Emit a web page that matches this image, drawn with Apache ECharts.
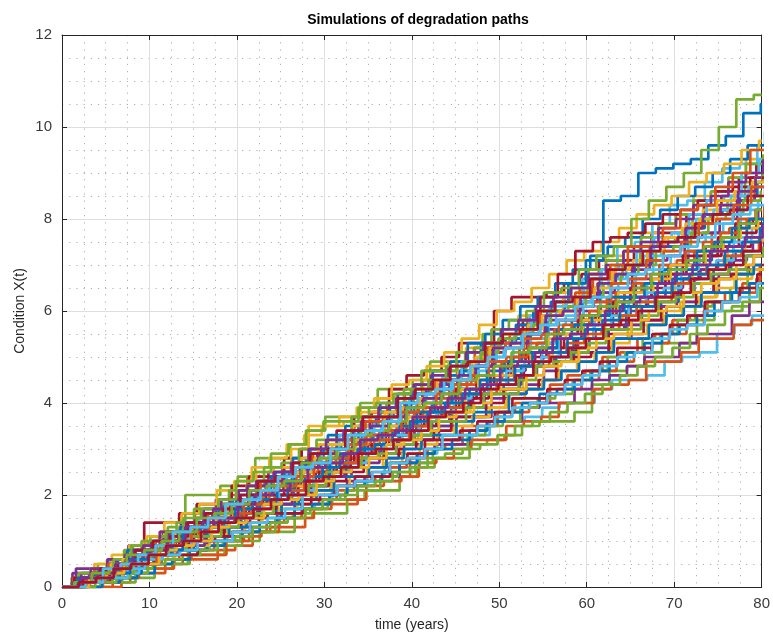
<!DOCTYPE html>
<html>
<head>
<meta charset="utf-8">
<script src="https://cdn.jsdelivr.net/npm/echarts@6/dist/echarts.min.js"></script>
<style>
html,body{margin:0;padding:0;background:#fff;}
#chart{width:773px;height:637px;}
</style>
</head>
<body>
<div id="chart"></div>
<script>
// time grid (years)
var times = [0,2,4,6,8,10,12,14,16,18,20,22,24,26,28,30,32,34,36,38,40,42,44,46,48,50,52,54,56,58,60,62,64,66,68,70,72,74,76,78,80];
var xTicks = [0,10,20,30,40,50,60,70,80];
var yTicks = [0,2,4,6,8,10,12];

// simulated degradation paths (condition at each time)
var a1 = [0,0.1,0.4,0.4,0.7,0.9,0.9,1.3,1.4,1.5,1.9, 2.0,2.0,2.4,2.7,2.8,2.9,3.3,3.3,3.5,3.9, 4.0,4.4,4.5,4.5,4.9,5.2,5.3,5.4,5.8,5.9, 6.0,6.4,6.6,6.6,7.0,7.1,7.4,7.5,7.9,8.1];
var a2 = [0,0,0.3,0.6,0.7,0.7,1.2,1.3,1.6,1.6,2.0, 2.4,2.4,2.6,3.0,3.1,3.1,3.6,3.8,3.9,4.2, 4.5,4.5,4.9,5.2,5.2,5.5,5.9,5.9,6.0,6.5, 6.6,6.9,7.0,7.4,7.4,7.8,8.1,8.2,8.4,8.7];
var a3 = [0,0,0.1,0.4,0.4,0.6,0.9,0.9,1.0,1.4,1.4, 1.6,1.9,1.9,2.1,2.5,2.6,2.6,2.9,3.2,3.3, 3.4,3.8,3.9,3.9,4.3,4.5,4.5,4.9,5.1,5.1, 5.4,5.7,5.7,6.0,6.2,6.3,6.7,6.8,6.9,7.3];
var a4 = [0,0.4,0.4,0.5,0.9,0.9,1.2,1.4,1.5,1.9,1.9, 2.1,2.5,2.5,2.7,3.1,3.1,3.2,3.6,3.7,3.9, 4.3,4.3,4.5,4.9,4.9,5.0,5.5,5.6,5.6,6.0, 6.2,6.3,6.7,6.7,7.0,7.3,7.4,7.6,8.0,8.2];
var a5 = [0,0.2,0.5,0.5,0.9,1.1,1.3,2.0,2.0,2.2,2.4, 2.8,2.8,3.1,3.4,3.7,3.7,4.0,4.3,4.3,4.5, 4.9,4.9,5.1,5.5,5.5,5.7,6.1,6.2,6.3,6.7, 6.7,7.0,7.4,7.5,7.6,8.0,8.1,8.4,8.8,9.0];
var a6 = [0,0.1,0.1,0.3,0.5,0.5,0.8,0.8,1.0,1.2,1.3, 1.3,1.7,1.7,1.8,2.2,2.2,2.4,2.6,2.6,2.9, 3.1,3.1,3.3,3.6,3.6,3.7,3.9,4.0,4.0,4.3, 4.5,4.5,4.6,4.9,5.0,5.1,5.5,5.7,5.9,6.3];
var a7 = [0,0.2,0.2,0.5,0.8,1.4,1.4,1.6,1.8,1.8,2.2, 2.4,2.4,2.8,3.0,3.0,3.4,3.7,3.8,4.3,4.6, 4.7,5.0,5.3,5.3,6.0,6.3,6.3,6.4,6.6,6.8, 7.1,7.1,7.4,7.7,7.7,8.1,8.3,8.5,8.9,9.2];
var b1 = [0,0,0.3,0.4,0.4,0.8,0.9,0.9,1.3,1.4,1.6, 1.6,2.0,2.2,2.2,2.5,2.9,2.9,3.1,3.4,3.5, 3.5,3.9,4.2,4.2,4.4,4.8,4.9,5.0,5.4,5.4, 5.6,6.0,6.0,6.2,6.6,6.6,6.9,7.2,7.2,7.5];
var b2 = [0,0,0,0.1,0.3,0.3,0.5,0.6,0.6,0.8,0.9, 1.2,1.3,1.3,1.7,1.8,1.8,2.2,2.4,2.4,2.8, 3.0,3.1,3.5,3.5,3.8,4.0,4.0,4.4,4.6,4.7, 5.0,5.1,5.4,5.5,5.8,5.9,6.2,6.4,6.6,7.0];
var b3 = [0,0.2,0.3,0.6,0.7,0.9,1.2,1.3,1.5,1.9,2.1, 2.5,2.6,3.0,3.5,3.5,3.6,3.8,4.1,4.2,4.4, 4.7,4.9,5.2,5.3,5.5,5.9,6.0,6.4,6.6,6.8, 7.2,7.3,7.7,7.9,8.1,8.5,8.6,8.9,9.3,9.4];
var b4 = [0,0.1,0.3,0.3,0.4,0.7,0.7,0.9,1.1,1.1,1.4, 1.6,1.6,1.9,2.0,2.0,2.4,2.6,2.6,2.9,3.1, 3.2,3.5,3.7,3.7,4.1,4.2,4.4,4.7,4.7,5.1, 5.2,5.4,5.8,5.8,6.1,6.2,6.4,6.8,6.9,7.2];
var b5 = [0,0,0.1,0.2,0.2,0.4,0.5,0.7,0.7,0.9,1.0, 1.2,1.2,1.5,1.6,1.6,1.9,2.1,2.1,2.4,2.6, 2.8,2.8,3.1,3.2,3.3,3.5,3.6,3.6,3.8,4.4, 4.7,4.8,5.1,5.3,5.3,5.8,6.0,6.1,6.5,6.8];
var b6 = [0,0.1,0.3,0.6,0.6,0.8,1.0,1.3,1.3,1.6,1.8, 2.1,2.1,2.4,2.7,2.7,3.0,3.4,3.4,3.8,4.0, 4.2,4.6,4.7,5.0,5.3,5.4,5.9,6.0,6.3,6.7, 6.9,7.4,7.5,7.9,8.3,8.4,8.8,9.1,9.2,9.6];
var b7 = [0,0.2,0.2,0.4,0.7,0.8,0.8,1.2,1.2,1.5,1.6, 1.9,2.0,2.0,2.4,2.6,2.8,2.8,3.2,3.3,3.5, 3.9,3.9,4.1,4.5,4.5,4.8,5.1,5.1,5.4,5.6, 5.7,6.1,6.3,6.3,6.7,6.9,7.0,7.4,7.5,7.8];
var c1 = [0,0.1,0.4,0.5,0.5,0.8,1.1,1.1,1.4,1.7,1.9, 2.0,2.4,2.5,2.8,3.0,3.1,3.5,3.7,3.8,4.2, 4.4,4.6,4.9,5.3,5.3,5.7,6.0,6.2,6.6,7.1, 8.4,8.5,9.0,9.1,9.2,9.3,9.6,9.8,10.3,10.5];
var c2 = [0,0.1,0.1,0.4,0.6,0.7,0.9,1.2,1.2,1.5,1.7, 1.8,2.2,2.2,2.5,2.8,2.8,3.1,3.4,3.6,3.8, 3.9,4.3,4.5,4.5,4.9,5.2,5.3,5.6,5.7,6.0, 6.3,6.4,6.6,7.0,7.1,7.3,7.7,7.8,8.0,8.3];
var c3 = [0,0.2,0.4,0.4,0.7,1.0,1.0,1.3,1.5,1.6,1.9, 2.2,2.3,2.5,2.8,3.1,3.1,3.5,3.7,3.8,4.1, 4.4,4.5,4.7,5.0,5.3,5.4,5.7,5.9,6.3,6.4, 6.6,7.0,7.1,7.5,7.6,7.9,8.2,8.3,8.6,8.9];
var c4 = [0,0.1,0.2,0.2,0.5,0.6,0.6,0.8,1.0,1.0,1.3, 1.4,1.6,1.9,1.9,2.0,2.3,2.4,2.4,2.7,2.9, 3.1,3.1,3.4,3.6,3.6,3.9,4.0,4.0,4.3,4.5, 4.6,4.8,5.0,5.0,5.3,5.5,5.5,5.9,6.2,6.4];
var c5 = [0,0.2,0.2,0.5,0.8,1.0,1.1,1.4,1.7,1.7,2.1, 2.2,2.6,2.7,3.0,3.2,3.2,3.7,3.9,4.0,4.3, 4.7,4.7,5.1,5.2,5.6,5.8,6.0,6.4,6.5,6.9, 7.2,7.4,8.0,8.4,8.7,9.0,9.5,10.0,10.6,10.7];
var c6 = [0,0.1,0.2,0.5,0.5,0.7,1.0,1.1,1.1,1.5,1.6, 1.9,2.0,2.3,2.5,2.5,2.9,3.2,3.2,3.4,3.7, 3.9,4.3,4.3,4.6,4.8,4.9,5.3,5.5,5.6,5.9, 6.2,6.3,6.6,6.9,7.0,7.2,7.5,7.6,7.8,8.1];
var c7 = [0,0.1,0.3,0.3,0.5,0.8,0.8,1.0,1.1,1.3,1.4, 1.7,1.8,1.8,2.2,2.3,2.5,2.8,2.8,3.0,3.2, 3.4,3.7,3.7,4.0,4.3,4.3,4.5,4.9,5.0,5.1, 5.5,5.5,5.8,6.1,6.1,6.4,6.7,6.8,7.0,7.3];
var d1 = [0,0.2,0.2,0.5,0.8,0.8,1.0,1.3,1.4,1.5,1.9, 2.0,2.1,2.5,2.6,2.9,3.2,3.2,3.5,3.9,4.0, 4.1,4.5,4.7,4.8,5.3,5.4,5.5,6.0,6.1,6.2, 6.7,6.8,7.0,7.4,7.4,7.8,8.1,8.2,8.5,8.8];
var d2 = [0,0,0,0.2,0.4,0.4,0.6,0.7,0.7,1.0,1.1, 1.2,1.5,1.5,1.7,1.9,1.9,2.2,2.3,2.4,2.7, 2.8,3.0,3.2,3.2,3.5,3.6,3.7,4.0,4.0,4.3, 4.4,4.5,4.9,4.9,5.1,5.4,5.4,5.7,5.8,6.1];
var d3 = [0,0.1,0.3,0.3,0.6,0.6,0.8,1.1,1.2,1.4,1.6, 1.6,1.9,2.2,2.2,2.5,2.7,2.8,3.2,3.2,3.5, 3.7,3.8,4.2,4.2,4.5,4.6,4.9,5.1,5.2,5.5, 5.8,5.9,6.2,6.3,6.6,6.8,6.9,7.3,7.5,7.7];
var d4 = [0,0.3,0.3,0.6,0.7,0.9,1.2,1.2,1.5,1.6,1.9, 2.2,2.2,2.5,2.7,2.9,3.0,3.3,3.6,3.7,4.0, 4.2,4.4,4.5,4.8,5.2,5.2,5.5,5.8,5.8,6.2, 6.4,6.5,6.9,7.1,7.2,7.6,7.7,8.0,8.4,8.5];
var d5 = [0,0,0.1,0.1,0.4,0.5,0.5,0.8,0.9,1.0,1.2, 1.2,1.5,1.6,1.7,1.9,2.1,2.1,2.4,2.5,2.7, 3.0,3.0,3.3,3.5,3.6,3.9,4.1,4.2,4.5,4.7, 5.0,5.1,5.4,5.5,5.8,6.1,6.2,6.5,6.9,7.1];
var d6 = [0,0.1,0.3,0.3,0.6,0.8,1.0,1.2,1.5,1.5,1.8, 2.0,2.3,2.5,2.6,2.9,3.3,3.3,3.6,3.8,4.1, 4.2,4.5,4.9,4.9,5.3,5.5,5.8,6.1,6.2,6.5, 6.9,7.0,7.3,7.6,7.7,8.1,8.4,8.5,9.0,9.3];
var d7 = [0,0.1,0.4,0.5,0.5,0.8,1.0,1.3,1.3,1.5,1.7, 2.0,2.0,2.3,2.5,2.6,3.0,3.1,3.4,3.6,3.8, 3.9,4.3,4.3,4.6,4.9,5.1,5.2,5.5,5.8,5.9, 6.2,6.5,6.5,6.8,7.2,7.2,7.6,7.9,8.0,8.4];
var e1 = [0,0,0.1,0.3,0.3,0.5,0.8,0.8,1.0,1.1,1.3, 1.5,1.5,1.8,1.9,2.1,2.4,2.4,2.6,2.8,3.0, 3.3,3.3,3.6,3.8,3.8,4.2,4.3,4.5,4.7,4.9, 5.1,5.4,5.4,5.7,5.9,6.1,6.4,6.4,6.8,7.0];
var e2 = [0,0.2,0.4,0.4,0.7,1.0,1.1,1.3,1.6,1.7,1.9, 2.3,2.3,2.6,2.9,2.9,3.2,3.6,3.7,3.8,4.1, 4.5,4.5,4.9,5.2,5.3,5.6,6.0,6.0,6.4,6.7, 7.0,7.4,7.4,7.8,8.2,8.3,8.7,9.0,9.5,9.8];
var e3 = [0,0.1,0.2,0.5,0.6,0.8,1.0,1.0,1.4,1.5,1.7, 1.9,2.1,2.2,2.6,2.6,2.9,3.2,3.2,3.5,3.7, 4.0,4.0,4.3,4.6,4.6,4.9,5.2,5.4,5.5,5.8, 6.0,6.4,6.4,6.7,7.0,7.0,7.3,7.6,7.8,8.0];
var e4 = [0,0.2,0.2,0.4,0.6,0.7,0.9,0.9,1.3,1.4,1.5, 1.8,1.8,2.1,2.2,2.4,2.7,2.7,3.0,3.2,3.4, 3.6,3.8,3.9,4.3,4.3,4.6,4.8,5.0,5.2,5.4, 5.6,5.7,6.1,6.1,6.4,6.7,6.8,7.1,7.2,7.5];
var e5 = [0,0.3,0.4,0.6,0.9,1.0,1.2,1.5,1.7,1.9,2.3, 2.5,2.9,3.1,3.4,3.6,3.6,3.9,4.0,4.2,4.3, 4.5,4.8,4.9,5.1,5.4,5.5,5.7,6.0,6.1,6.3, 6.6,6.8,7.0,7.3,7.4,7.7,8.0,8.1,8.4,8.6];
var e6 = [0,0.1,0.3,0.3,0.6,0.8,0.9,1.1,1.3,1.5,1.7, 1.8,2.1,2.1,2.4,2.7,2.7,3.0,3.3,3.3,3.6, 3.8,4.1,4.2,4.4,4.7,4.8,5.0,5.4,5.4,5.7, 5.9,6.2,6.4,6.5,6.9,7.0,7.1,7.5,7.6,7.9];
var e7 = [0,0.1,0.1,0.3,0.4,0.6,0.7,0.7,1.0,1.1,1.2, 1.5,1.6,1.6,1.9,2.0,2.2,2.4,2.4,2.7,2.9, 3.2,3.2,3.4,3.6,3.8,4.1,4.1,4.3,4.5,4.7, 4.9,5.2,5.2,5.5,5.7,5.9,6.2,6.2,6.5,6.8];
var f1 = [0,0.1,0.2,0.5,0.6,0.7,1.1,1.1,1.4,1.5,1.7, 1.9,2.1,2.4,2.4,2.8,2.9,3.2,3.4,3.5,3.8, 4.0,4.2,4.3,4.7,4.9,5.1,5.2,5.6,5.7,5.9, 6.3,6.3,6.6,6.9,6.9,7.3,7.5,7.8,8.0,8.3];
var f2 = [0,0.1,0.4,0.4,0.6,0.8,0.9,1.1,1.4,1.4,1.6, 1.8,2.1,2.1,2.3,2.6,2.7,2.9,3.2,3.2,3.5, 3.7,3.9,4.2,4.2,4.5,4.8,4.8,5.1,5.3,5.5, 5.6,5.9,6.2,6.2,6.6,6.8,7.0,7.2,7.3,7.6];
var f3 = [0,0.1,0.3,0.6,0.7,0.9,1.2,1.3,1.5,1.8,1.9, 2.1,2.4,2.5,2.8,3.1,3.1,3.4,3.8,3.9,4.1, 4.5,4.5,4.9,5.2,5.2,5.6,5.9,6.0,6.3,6.5, 6.9,7.0,7.3,7.6,7.8,8.0,8.4,8.6,8.8,9.1];
var f4 = [0,0.1,0.4,0.4,0.6,0.9,1.0,1.2,1.4,1.7,1.8, 2.0,2.3,2.4,2.6,2.9,3.0,3.4,3.5,3.6,3.9, 4.1,4.5,4.6,4.8,5.2,5.3,5.5,5.9,6.0,6.3, 6.6,6.8,7.0,7.4,7.5,7.8,8.1,8.3,8.6,8.9];
var f5 = [0,0.1,0.1,0.3,0.6,0.7,0.8,1.1,1.1,1.3,1.5, 1.6,1.9,2.0,2.2,2.5,2.6,2.8,2.9,3.1,3.3, 3.6,3.6,3.9,4.2,4.2,4.5,4.8,4.9,5.1,5.3, 5.6,5.6,5.9,6.2,6.3,6.6,6.8,6.9,7.2,7.4];
var f6 = [0,0.1,0.2,0.2,0.4,0.6,0.7,0.8,1.0,1.0,1.2, 1.4,1.5,1.7,2.0,2.0,2.2,2.3,2.5,2.7,2.8, 3.0,3.3,3.3,3.5,3.7,3.9,4.0,4.2,4.4,4.6, 4.8,5.0,5.1,5.4,5.6,5.7,6.0,6.2,6.3,6.6];
var f7 = [0,0.2,0.4,0.5,0.8,1.0,1.1,1.4,1.6,1.7,2.0, 2.3,2.4,2.7,2.9,3.0,3.4,3.7,3.7,4.1,4.3, 4.5,4.8,4.9,5.3,5.5,5.6,6.0,6.2,6.3,6.7, 6.9,7.0,7.3,7.5,7.6,7.9,8.1,8.2,8.5,8.7];
var g1 = [0,0.2,0.3,0.3,0.6,0.8,0.8,1.2,1.3,1.4,1.7, 1.9,1.9,2.3,2.4,2.6,2.9,3.0,3.1,3.4,3.6, 3.8,4.0,4.2,4.5,4.5,4.8,5.1,5.1,5.4,5.6, 5.8,6.1,6.1,6.4,6.7,6.8,7.0,7.3,7.5,7.8];
var g2 = [0,0.1,0.3,0.5,0.5,0.9,1.0,1.2,1.5,1.5,1.8, 2.1,2.2,2.4,2.7,2.8,3.1,3.3,3.4,3.8,3.9, 4.2,4.4,4.6,4.9,5.0,5.4,5.5,5.8,6.1,6.2, 6.6,6.7,7.1,7.3,7.5,7.9,8.0,8.3,8.7,8.9];
var g3 = [0,0,0.2,0.3,0.5,0.5,0.8,0.9,1.0,1.3,1.4, 1.5,1.8,1.9,2.0,2.3,2.5,2.6,2.8,3.1,3.2, 3.4,3.7,3.8,4.0,4.3,4.3,4.6,4.8,4.9,5.2, 5.4,5.5,5.8,6.0,6.1,6.4,6.6,6.7,7.0,7.2];
var g4 = [0,0.2,0.3,0.5,0.7,0.8,1.0,1.3,1.4,1.5,1.8, 2.0,2.1,2.3,2.6,2.7,2.9,3.2,3.3,3.4,3.7, 3.9,4.1,4.3,4.4,4.8,4.9,5.1,5.4,5.5,5.7, 6.0,6.2,6.3,6.6,6.8,7.0,7.3,7.4,7.6,7.9];
var g5 = [0,0.1,0.3,0.4,0.7,0.8,1.0,1.2,1.5,1.6,1.8, 2.1,2.2,2.3,2.7,2.8,3.0,3.3,3.4,3.6,3.9, 4.0,4.2,4.5,4.6,4.8,5.1,5.2,5.5,5.6,5.9, 6.1,6.2,6.5,6.8,6.9,7.1,7.4,7.6,7.9,8.2];
var g6 = [0,0.1,0.4,0.5,0.7,0.9,1.2,1.3,1.5,1.8,1.9, 2.1,2.4,2.6,2.7,3.0,3.3,3.4,3.6,4.0,4.2, 4.3,4.5,4.8,5.0,5.2,5.5,5.7,5.8,6.1,6.3, 6.5,6.8,6.9,7.2,7.4,7.6,7.9,8.1,8.3,8.6];
var g7 = [0,0.1,0.2,0.4,0.5,0.7,0.9,1.0,1.2,1.4,1.5, 1.7,1.9,2.0,2.3,2.4,2.6,2.9,3.0,3.2,3.4, 3.7,3.8,4.0,4.3,4.4,4.6,4.9,5.0,5.2,5.4, 5.7,5.8,6.0,6.3,6.4,6.7,6.9,7.0,7.3,7.5];
var h1 = [0,0.2,0.4,0.6,0.7,1.0,1.2,1.3,1.6,1.8,2.0, 2.3,2.5,2.8,3.0,3.3,3.5,3.7,4.0,4.2,4.4, 4.7,4.9,5.3,5.5,5.8,6.1,6.3,6.6,6.9,7.2, 7.4,7.6,8.0,8.2,8.5,8.7,9.0,9.3,9.6,9.9];
var h2 = [0,0.1,0.1,0.3,0.4,0.5,0.6,0.8,0.8,1.0,1.0, 1.2,1.4,1.5,1.8,1.9,2.1,2.3,2.5,2.6,2.8, 3.0,3.2,3.3,3.5,3.7,3.8,4.0,4.2,4.3,4.5, 4.7,4.9,5.1,5.3,5.5,5.7,6.0,6.2,6.4,6.7];
var h3 = [0,0.2,0.5,0.7,0.9,1.1,1.4,1.6,1.8,2.1,2.3, 2.6,2.8,3.1,3.3,3.5,3.7,3.9,4.1,4.4,4.5, 4.8,5.1,5.4,5.7,6.0,6.2,6.5,6.8,7.1,7.3, 7.5,7.8,8.1,8.3,8.5,8.8,9.0,9.2,9.5,9.7];
var h4 = [0,0.1,0.2,0.4,0.5,0.8,0.9,1.0,1.3,1.4,1.6, 1.8,2.0,2.3,2.4,2.6,2.8,3.0,3.3,3.4,3.6, 3.8,4.0,4.2,4.4,4.7,4.8,5.0,5.2,5.4,5.6, 5.9,6.1,6.3,6.5,6.7,6.9,7.1,7.3,7.5,7.7];
var h5 = [0,0.1,0.3,0.5,0.7,0.9,1.1,1.3,1.6,1.8,1.9, 2.2,2.4,2.6,2.9,3.1,3.3,3.5,3.8,4.0,4.2, 4.4,4.7,4.9,5.2,5.5,5.7,6.0,6.2,6.5,6.9, 7.1,7.3,7.6,7.9,8.1,8.4,8.6,8.9,9.2,9.4];
var h6 = [0,0.1,0.3,0.4,0.6,0.8,1.0,1.2,1.4,1.6,1.8, 2.0,2.2,2.4,2.6,2.8,3.0,3.2,3.4,3.7,3.9, 4.1,4.3,4.6,4.8,5.0,5.2,5.4,5.7,5.9,6.1, 6.4,6.6,6.8,7.0,7.2,7.5,7.7,7.9,8.2,8.4];
var h7 = [0,0.1,0.3,0.5,0.7,0.9,1.1,1.3,1.5,1.7,1.9, 2.1,2.3,2.5,2.7,2.9,3.1,3.4,3.6,3.8,4.0, 4.3,4.5,4.8,5.1,5.4,5.8,6.3,6.8,7.3,7.5, 7.6,7.7,7.9,8.1,8.2,8.4,8.6,8.7,8.9,9.0];
var i1 = [0,0,0.1,0.2,0.3,0.5,0.6,0.8,0.9,1.1,1.2, 1.4,1.5,1.7,1.8,2.0,2.2,2.3,2.5,2.7,2.9, 3.0,3.2,3.4,3.6,3.8,4.0,4.2,4.3,4.5,4.7, 4.9,5.1,5.3,5.5,5.7,5.9,6.2,6.4,6.6,6.9];
var i2 = [0,0.2,0.3,0.5,0.6,0.8,1.0,1.1,1.3,1.5,1.7, 1.9,2.1,2.3,2.5,2.7,2.9,3.1,3.3,3.5,3.7, 3.9,4.1,4.4,4.6,4.8,5.0,5.3,5.5,5.7,5.9, 6.1,6.4,6.6,6.8,7.0,7.3,7.5,7.7,8.0,8.2];
var i3 = [0,0.1,0.2,0.3,0.5,0.6,0.8,0.9,1.1,1.2,1.4, 1.6,1.7,1.9,2.1,2.2,2.4,2.6,2.7,2.9,3.1, 3.3,3.5,3.7,3.9,4.1,4.3,4.5,4.7,4.9,5.1, 5.3,5.5,5.7,5.9,6.1,6.3,6.5,6.7,6.9,7.1];
var i4 = [0,0.3,0.4,0.6,0.8,1.0,1.2,1.4,1.7,1.9,2.1, 2.3,2.5,2.7,3.0,3.2,3.4,3.6,3.9,4.1,4.4, 4.6,4.8,5.1,5.3,5.6,5.8,6.1,6.3,6.5,6.8, 7.0,7.3,7.5,7.8,8.0,8.3,8.5,8.8,9.0,9.3];
var i5 = [0,0,0.1,0.2,0.3,0.5,0.6,0.7,0.8,1.0,1.1, 1.3,1.4,1.5,1.7,1.9,2.0,2.2,2.3,2.5,2.6, 2.8,2.9,3.0,3.1,3.3,3.5,3.6,3.8,4.0,4.2, 4.4,4.6,4.8,5.0,5.2,5.5,5.7,6.0,6.2,6.5];
var i6 = [0,0.1,0.3,0.5,0.6,0.9,1.0,1.2,1.4,1.6,1.8, 2.0,2.2,2.5,2.7,2.9,3.1,3.3,3.5,3.8,4.0, 4.2,4.5,4.7,5.0,5.2,5.5,5.7,6.0,6.2,6.5, 6.7,7.0,7.2,7.5,7.7,8.0,8.2,8.5,8.7,9.0];
var i7 = [0,0.2,0.3,0.4,0.6,0.8,0.9,1.1,1.3,1.5,1.6, 1.8,2.0,2.2,2.3,2.5,2.7,2.9,3.1,3.3,3.5, 3.7,3.9,4.1,4.4,4.6,4.8,5.0,5.2,5.4,5.7, 5.9,6.1,6.3,6.6,6.8,7.0,7.2,7.4,7.7,7.9];

// per-path offset (years) of the jump times relative to the time grid
var jumpShift = [0.3,-0.8,0.7,-0.4,0.1,0.9,-0.6, 0.5,-0.2,0.2,-0.9,0.6,-0.5,0.8,
                 0.4,-0.6,-0.3,1.0,0.2,-0.4,0.7, -0.1,0.3,-0.7,0.6,-0.9,0.9,0.5,
                 -0.5,0.8,0.1,-0.8,0.4,-0.3,1.0, 0.6,-0.7,0.9,0.2,-0.2,0.5,-0.6,
                 -0.9,0.7,-0.4,0.3,-0.1,0.8,-0.5, 0.6,-0.3,0.9,-0.7,0.2,-0.5,0.4,
                 -0.2,0.8,-0.9,0.1,-0.6,0.7,-0.1];

var paths = [a1,a2,a3,a4,a5,a6,a7, b1,b2,b3,b4,b5,b6,b7, h1,h2,h3,h4,h5,h6,h7,
             c1,c2,c3,c4,c5,c6,c7, d1,d2,d3,d4,d5,d6,d7, i1,i2,i3,i4,i5,i6,i7,
             e1,e2,e3,e4,e5,e6,e7, f1,f2,f3,f4,f5,f6,f7, g1,g2,g3,g4,g5,g6,g7];
var palette = ['#0072BD','#D95319','#EDB120','#7E2F8E','#77AC30','#4DBEEE','#A2142F'];

var chart = echarts.init(document.getElementById('chart'), null, {renderer:'canvas'});
var txt = '#262626';
var font = 'Liberation Sans, Arial, Helvetica, sans-serif';
var tMax = xTicks[xTicks.length-1];

var series = paths.map(function(p, k){
  var col = palette[k % palette.length];
  var s = jumpShift[k] || 0;
  var d = [[times[0], p[0]]];
  var n = Math.min(times.length, p.length);
  for (var i = 1; i < n; i++) d.push([times[i] + s, p[i]]);
  if (d[d.length-1][0] < tMax) d.push([tMax, p[n-1]]);
  return {
    type:'line', step:'end', showSymbol:false, symbol:'none', silent:true,
    data: d,
    lineStyle:{width:2.7, color: col},
    itemStyle:{color: col},
    animation:false
  };
});

function axisCommon(show, isX){
  return {
    type:'value',
    axisLine:{show:true, onZero:false, lineStyle:{color:txt, width:1}},
    axisTick:{show:true, inside:true, length:5, lineStyle:{color:txt}},
    axisLabel:{show:show, color:'#3a3a3a', fontSize:15, fontFamily:font, margin: isX ? 9 : 10},
    minorTick:{show:false, splitNumber:4},
    splitLine:{show:show, lineStyle:{color:'#dedede', width:1}},
    minorSplitLine:{show:show, lineStyle:{color:'#b0b0b0', width:1, type:[1.2,6]}}
  };
}

var xb = axisCommon(true, true);
xb.min = xTicks[0]; xb.max = tMax; xb.interval = 10; xb.position = 'bottom';
xb.name = 'time (years)'; xb.nameLocation = 'middle'; xb.nameGap = 31; xb.nameMoveOverlap = false;
xb.nameTextStyle = {color:txt, fontSize:14, fontFamily:font};
var xt = axisCommon(false, true);
xt.min = xTicks[0]; xt.max = tMax; xt.interval = 10; xt.position = 'top';

var yl = axisCommon(true, false);
yl.min = yTicks[0]; yl.max = yTicks[yTicks.length-1]; yl.interval = 2; yl.position = 'left';
yl.name = 'Condition X(t)'; yl.nameLocation = 'middle'; yl.nameGap = 35; yl.nameMoveOverlap = false;
yl.nameTextStyle = {color:txt, fontSize:14, fontFamily:font};
var yr = axisCommon(false, false);
yr.min = yTicks[0]; yr.max = yTicks[yTicks.length-1]; yr.interval = 2; yr.position = 'right';

chart.setOption({
  backgroundColor:'#ffffff',
  animation:false,
  title:{text:'Simulations of degradation paths', left:413, top:8, textAlign:'center',
    textStyle:{color:'#000', fontSize:14, fontWeight:'bold', fontFamily:font}},
  grid:{left:62, right:9, top:35, bottom:47, containLabel:false},
  xAxis:[xb, xt],
  yAxis:[yl, yr],
  series: series
});
</script>
</body>
</html>
